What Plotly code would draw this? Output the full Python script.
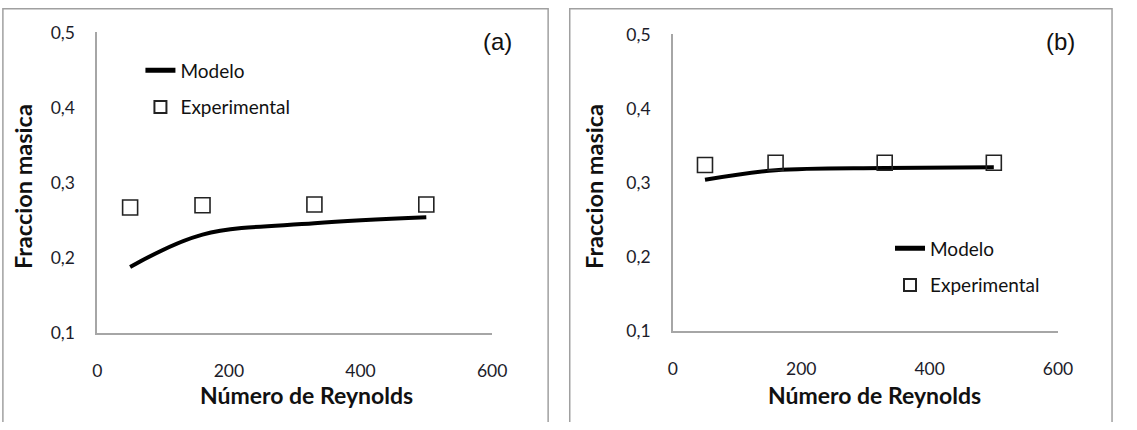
import plotly.graph_objects as go

# Reynolds numbers of the four runs
reynolds = [50, 160, 330, 500]

# (a) mass fraction: model curve and measurements
modelo_a = [0.188, 0.231, 0.246, 0.254]
experimental_a = [0.267, 0.270, 0.271, 0.271]

# (b) mass fraction: model curve and measurements
modelo_b = [0.304, 0.317, 0.320, 0.321]
experimental_b = [0.324, 0.327, 0.327, 0.327]

x_ticks = [0, 200, 400, 600]
y_ticks = [0.1, 0.2, 0.3, 0.4, 0.5]

W, H = 1137, 430
TICK_FONT = dict(family="Lato, Open Sans, sans-serif", size=17.5, color="#1c1c2a")
TITLE_FONT = dict(family="Lato, Open Sans, sans-serif", size=23, color="#111111")
YTITLE_FONT = dict(family="Lato, Open Sans, sans-serif", size=23.5, color="#111111")
LEGEND_FONT = dict(family="Lato, Open Sans, sans-serif", size=19, color="#111111")
AXIS_GREY = "#a6a6a6"


def px(x):
    return x / W


def py(y):
    return (H - y) / H


fig = go.Figure()

panels = [
    dict(xa="x", ya="y", model=modelo_a, exp=experimental_a, legend="legend"),
    dict(xa="x2", ya="y2", model=modelo_b, exp=experimental_b, legend="legend2"),
]

for p in panels:
    fig.add_trace(go.Scatter(
        x=reynolds, y=p["model"], mode="lines", name="Modelo",
        line=dict(color="black", width=4, shape="spline", smoothing=1.0),
        xaxis=p["xa"], yaxis=p["ya"], legend=p["legend"], legendgroup="m",
    ))
    fig.add_trace(go.Scatter(
        x=reynolds, y=p["exp"], mode="markers", name="Experimental",
        marker=dict(symbol="square-open", size=15, color="#222222",
                    line=dict(width=1.6, color="#222222")),
        xaxis=p["xa"], yaxis=p["ya"], legend=p["legend"], legendgroup="e",
    ))


def xaxis_cfg(x0, x1, anchor):
    return dict(
        domain=[px(x0), px(x1)], range=[0, 600], anchor=anchor,
        tickvals=x_ticks, ticktext=[str(v) for v in x_ticks],
        showgrid=False, zeroline=False, showline=True, linecolor=AXIS_GREY,
        linewidth=1.5, ticks="outside", ticklen=21, tickcolor="rgba(0,0,0,0)",
        tickfont=TICK_FONT, fixedrange=True,
    )


def yaxis_cfg(y_bottom, y_top, anchor):
    return dict(
        domain=[py(y_bottom), py(y_top)], range=[0.1, 0.5], anchor=anchor,
        tickvals=y_ticks, ticktext=[f"{v:.1f}".replace(".", ",") for v in y_ticks],
        showgrid=False, zeroline=False, showline=True, linecolor=AXIS_GREY,
        linewidth=1.5, ticks="outside", ticklen=17, tickcolor="rgba(0,0,0,0)",
        tickfont=TICK_FONT, fixedrange=True,
    )


fig.update_layout(
    autosize=True,
    margin=dict(l=0, r=0, t=0, b=0),
    paper_bgcolor="white", plot_bgcolor="white",
    showlegend=True,
    xaxis=xaxis_cfg(102, 504, "y"),
    yaxis=yaxis_cfg(347, 31, "x"),
    xaxis2=xaxis_cfg(688, 1080, "y2"),
    yaxis2=yaxis_cfg(345, 33, "x2"),
    legend=dict(x=px(146), y=py(51), xanchor="left", yanchor="top",
                bgcolor="rgba(0,0,0,0)", font=LEGEND_FONT,
                tracegroupgap=9, itemsizing="constant"),
    legend2=dict(x=px(909), y=py(238), xanchor="left", yanchor="top",
                 bgcolor="rgba(0,0,0,0)", font=LEGEND_FONT,
                 tracegroupgap=9, itemsizing="constant"),
)

# Panel frames (bottom edge runs past the page)
for x0, x1 in [(6, 561), (583, 1135)]:
    fig.add_shape(type="rect", xref="paper", yref="paper",
                  x0=px(x0), x1=px(x1), y0=-0.2, y1=py(6),
                  line=dict(color="#a0a0a0", width=1.5), fillcolor="rgba(0,0,0,0)",
                  layer="below")

for text, cx, cy in [("(a)", 509, 40), ("(b)", 1083, 40)]:
    fig.add_annotation(text=text, x=px(cx), y=py(cy), xref="paper", yref="paper",
                       xanchor="center", yanchor="middle", showarrow=False,
                       font=dict(family="Liberation Sans, Arial, sans-serif", size=24,
                                 color="#111111"))

# Axis titles
for cx, cy in [(315, 412), (893, 412)]:
    fig.add_annotation(text="<b>Número de Reynolds</b>", x=px(cx), y=py(cy),
                       xref="paper", yref="paper", xanchor="center", yanchor="middle",
                       showarrow=False, font=TITLE_FONT)
for cx, cy in [(26, 193), (607, 193)]:
    fig.add_annotation(text="<b>Fraccion masica</b>", x=px(cx), y=py(cy),
                       xref="paper", yref="paper", xanchor="center", yanchor="middle",
                       textangle=-90, showarrow=False, font=YTITLE_FONT)

# Fixed-size container; the negative margin cancels the page's default 8px body margin
fig.write_html("out.html", default_width=f"{W}px",
               default_height=f"{H}px; margin:-8px")
